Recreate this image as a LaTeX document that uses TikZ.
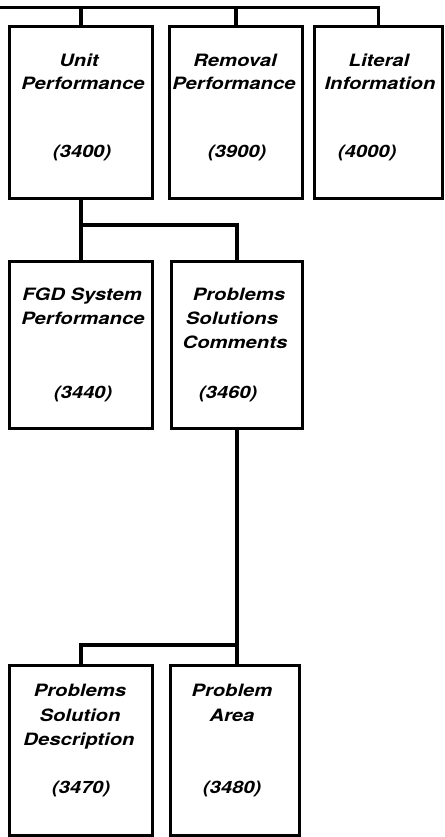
\documentclass[tikz,border=0pt]{standalone}
\usepackage{fontspec}
\newfontfamily\hv[FakeStretch=1.19]{TeX Gyre Heros}
\tikzset{
  box/.style={draw, line width=3.2pt, inner sep=0pt, rectangle},
  conn/.style={line width=3.2pt, line join=miter},
  lbl/.style={font=\hv\bfseries\itshape\fontsize{17}{20}\selectfont, anchor=base, inner sep=0pt},
}
\begin{document}
\begin{tikzpicture}[x=1pt,y=-1pt]
\useasboundingbox (0,0) rectangle (444,837);
% boxes
\node[box, minimum width=142.8pt, minimum height=171.8pt] (b1) at (81,112.5) {};
\node[box, minimum width=132.8pt, minimum height=171.8pt] (b2) at (236,112.5) {};
\node[box, minimum width=127.8pt, minimum height=171.8pt] (b3) at (378.5,112.5) {};
\node[box, minimum width=142.8pt, minimum height=166.8pt] (b4) at (81,345) {};
\node[box, minimum width=130.8pt, minimum height=166.8pt] (b5) at (237,345) {};
\node[box, minimum width=142.8pt, minimum height=169.8pt] (b6) at (81,750.5) {};
\node[box, minimum width=128.8pt, minimum height=169.8pt] (b7) at (235,750.5) {};
% texts
\node[lbl] (t1a) at (79,67) {Unit};
\node[lbl] (t1b) at (83,90) {Performance};
\node[lbl] (t1c) at (82,158) {(3400)};
\node[lbl] (t2a) at (235,67) {Removal};
\node[lbl] (t2b) at (234,90) {Performance};
\node[lbl] (t2c) at (237,158) {(3900)};
\node[lbl] (t3a) at (379,67) {Literal};
\node[lbl] (t3b) at (380,90) {Information};
\node[lbl] (t3c) at (367,158) {(4000)};
\node[lbl] (t4a) at (82,300) {FGD System};
\node[lbl] (t4b) at (83,324) {Performance};
\node[lbl] (t4c) at (83,398) {(3440)};
\node[lbl] (t5a) at (239,300) {Problems};
\node[lbl] (t5b) at (232,324) {Solutions};
\node[lbl] (t5c) at (235,348) {Comments};
\node[lbl] (t5d) at (228,398) {(3460)};
\node[lbl] (t6a) at (80,696) {Problems};
\node[lbl] (t6b) at (80,721) {Solution};
\node[lbl] (t6c) at (79,745) {Description};
\node[lbl] (t6d) at (81,793) {(3470)};
\node[lbl] (t7a) at (232,696) {Problem};
\node[lbl] (t7b) at (232,721) {Area};
\node[lbl] (t7c) at (232,793) {(3480)};
% connectors
\coordinate (top) at (0,7.5);
\draw[conn] (top) -| (b3.north);
\draw[conn] (top -| b1.north) -- (b1.north);
\draw[conn] (top -| b2.north) -- (b2.north);
\coordinate (j1) at (0,225);
\draw[conn] (b1.south) -- (b4.north);
\draw[conn] (b1.south |- j1) -| (b5.north);
\coordinate (j2) at (0,645);
\draw[conn] (b5.south) -- (b5.south |- b7.north);
\draw[conn] (b5.south |- j2) -| (b6.north);
\end{tikzpicture}
\end{document}
